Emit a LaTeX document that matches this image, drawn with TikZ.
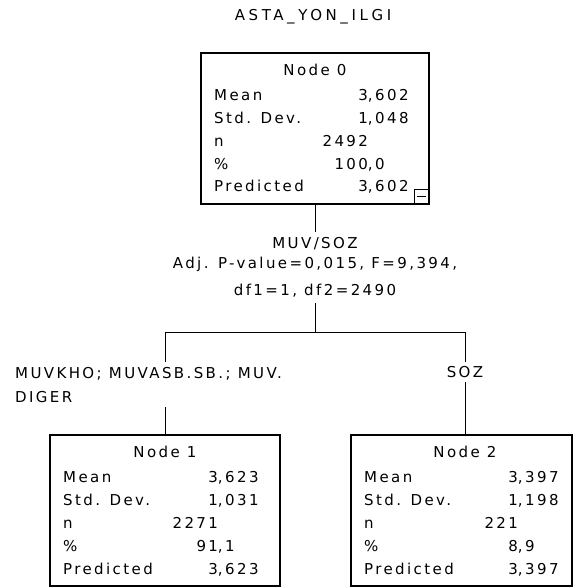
\documentclass[tikz,border=0pt]{standalone}
\usepackage{fontspec}
\setmainfont{DejaVu Sans}[LetterSpace=16]
\newfontfamily\titlefont{DejaVu Sans}[LetterSpace=24]
\newcommand\decval[2]{\makebox[0pt][r]{#1}\makebox[0pt][l]{#2}}
\tikzset{
  box/.style={draw, line width=1.2pt, inner sep=0pt, outer sep=0pt, anchor=north west, minimum height=151pt},
  txt/.style={inner sep=0pt, font=\fontsize{15}{17}\selectfont},
  lab/.style={txt, anchor=base west},
  val/.style={txt, anchor=base},
  hdr/.style={txt, anchor=base},
  conn/.style={line width=1pt},
}
\begin{document}
\begin{tikzpicture}[x=1pt,y=-1pt]
\useasboundingbox[fill=white] (0,0) rectangle (573,587);
% title
\node[hdr, font=\fontsize{15}{17}\titlefont] (title) at (313,20) {ASTA\_YON\_ILGI};
% Node 0
\node[box, minimum width=228pt] (n0) at (201,53) {};
\node[hdr] (n0h) at (315,75) {Node 0};
\node[lab] (n0l1) at (214,100) {Mean};
\node[lab] (n0l2) at (214,123) {Std. Dev.};
\node[lab] (n0l3) at (214,146) {n};
\node[lab] (n0l4) at (214,169) {\%};
\node[lab] (n0l5) at (214,191) {Predicted};
\node[val] (n0v1) at (368,100) {\decval{3}{,602}};
\node[val] (n0v2) at (368,123) {\decval{1}{,048}};
\node[val] (n0v3) at (368,146) {\decval{2492}{}};
\node[val] (n0v4) at (368,169) {\decval{100}{,0}};
\node[val] (n0v5) at (368,191) {\decval{3}{,602}};
\node[draw, line width=0.8pt, minimum size=14pt, inner sep=0pt, anchor=south east] (n0tog) at (n0.south east) {};
\draw[line width=0.9pt] ([xshift=3pt]n0tog.west) -- ([xshift=-3pt]n0tog.east);
% split label
\node[hdr] (sp1) at (315,248) {MUV/SOZ};
\node[hdr] (sp2) at (315,268) {Adj. P-value=0,015, F=9,394,};
\node[hdr] (sp3) at (315,295) {df1=1, df2=2490};
\coordinate (c0) at (315,232);
\coordinate (c1) at (315,303);
\coordinate (bm) at (315,332);
\coordinate (bl) at (165,332);
\coordinate (br) at (465,332);
\coordinate (cl) at (165,362);
\coordinate (cr) at (465,362);
\coordinate (cl2) at (165,407);
\coordinate (cr2) at (465,382);
% branch labels
\node[lab] (lbl1) at (15,378) {MUVKHO; MUVASB.SB.; MUV.};
\node[lab] (lbl2) at (15,402) {DIGER};
\node[hdr] (lbr) at (465,377) {SOZ};
% Node 1
\node[box, minimum width=230pt] (n1) at (50,435) {};
\node[hdr] (n1h) at (165,457) {Node 1};
\node[lab] (n1l1) at (63,482) {Mean};
\node[lab] (n1l2) at (63,505) {Std. Dev.};
\node[lab] (n1l3) at (63,528) {n};
\node[lab] (n1l4) at (63,551) {\%};
\node[lab] (n1l5) at (63,574) {Predicted};
\node[val] (n1v1) at (218,482) {\decval{3}{,623}};
\node[val] (n1v2) at (218,505) {\decval{1}{,031}};
\node[val] (n1v3) at (218,528) {\decval{2271}{}};
\node[val] (n1v4) at (218,551) {\decval{91}{,1}};
\node[val] (n1v5) at (218,574) {\decval{3}{,623}};
% Node 2
\node[box, minimum width=221pt] (n2) at (351,435) {};
\node[hdr] (n2h) at (465,457) {Node 2};
\node[lab] (n2l1) at (364,482) {Mean};
\node[lab] (n2l2) at (364,505) {Std. Dev.};
\node[lab] (n2l3) at (364,528) {n};
\node[lab] (n2l4) at (364,551) {\%};
\node[lab] (n2l5) at (364,574) {Predicted};
\node[val] (n2v1) at (518,482) {\decval{3}{,397}};
\node[val] (n2v2) at (518,505) {\decval{1}{,198}};
\node[val] (n2v3) at (518,528) {\decval{221}{}};
\node[val] (n2v4) at (518,551) {\decval{8}{,9}};
\node[val] (n2v5) at (518,574) {\decval{3}{,397}};
% connectors
\draw[conn] (c0 |- n0.south) -- (c0);
\draw[conn] (c1) -- (bm);
\draw[conn] (bl) -- (br);
\draw[conn] (bl) -- (cl);
\draw[conn] (br) -- (cr);
\draw[conn] (cl2) -- (cl2 |- n1.north);
\draw[conn] (cr2) -- (cr2 |- n2.north);
\end{tikzpicture}
\end{document}
